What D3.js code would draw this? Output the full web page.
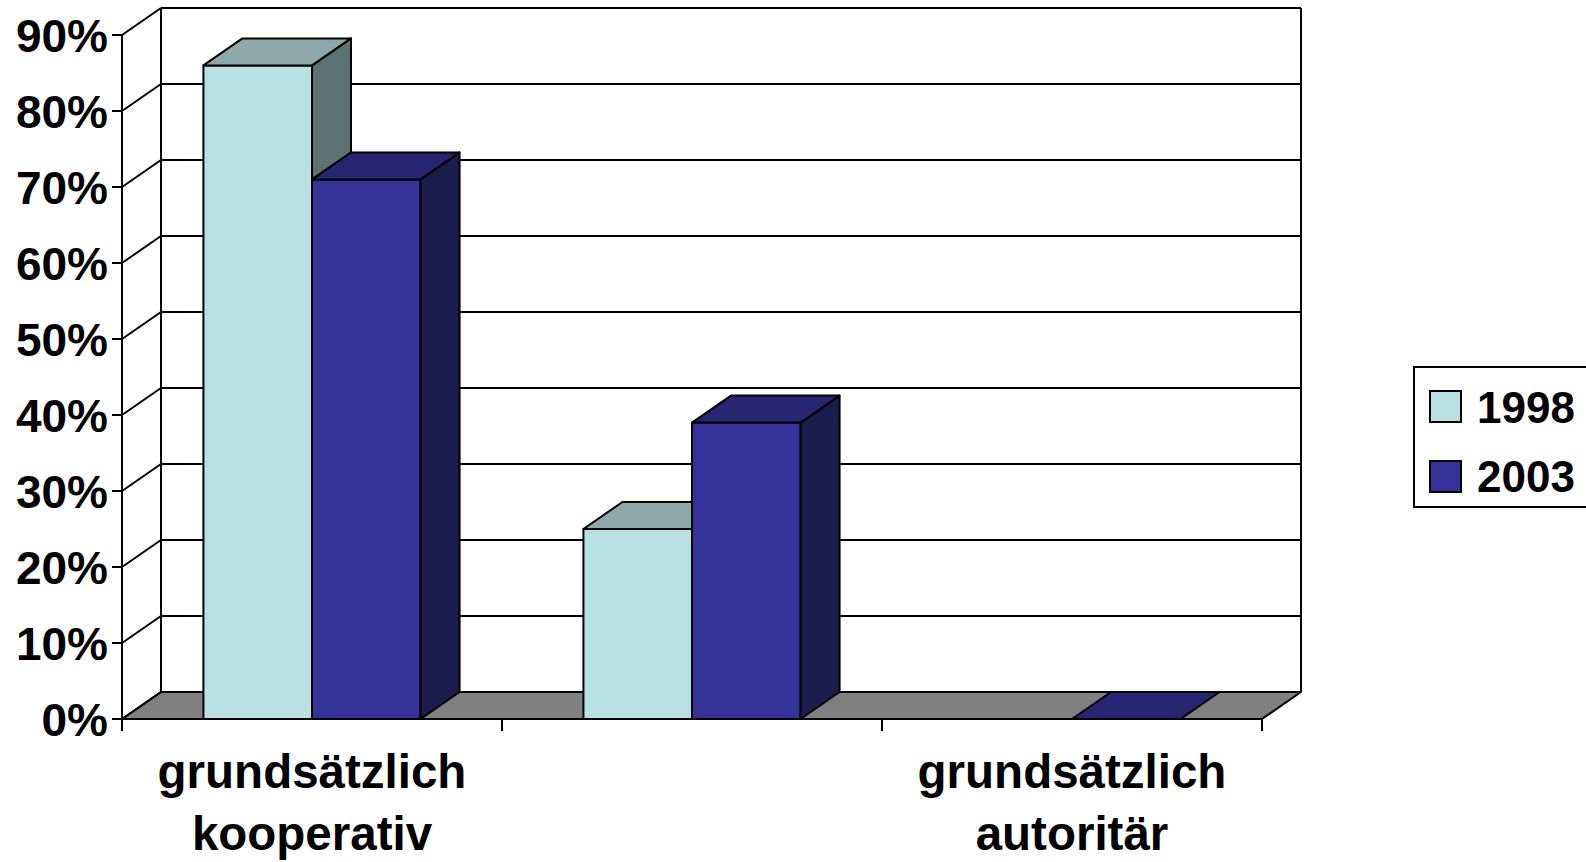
<!DOCTYPE html>
<html><head><meta charset="utf-8">
<script src="https://cdn.jsdelivr.net/npm/d3@7"></script>
<style>html,body{margin:0;padding:0;background:#fff;overflow:hidden}</style>
</head><body>
<svg id="c" width="1586" height="862"></svg>
<script>
const categories = [["grundsätzlich","kooperativ"], [], ["grundsätzlich","autoritär"]];
const seriesNames = ["1998", "2003"];
const values1998 = [86, 25, null];
const values2003 = [71, 39, 0];
const yTicks = [0,10,20,30,40,50,60,70,80,90];
const tickLabel = v => v + "%";

const svg = d3.select("#c");
const font = "'Liberation Sans', Arial, sans-serif";
const colors = [
  {front:"#B9E0E3", top:"#8EA9AB", side:"#5F7273"},
  {front:"#333399", top:"#262673", side:"#1C1C4D"}
];
const DX = 39, DY = 27;
const x0 = 122, x1 = 1262;
const y = d3.scaleLinear().domain([0, 90]).range([719, 35]);
const xCat = d3.scaleBand().domain(d3.range(categories.length)).range([x0, x1]).padding(0);
const xSer = d3.scaleBand().domain(d3.range(seriesNames.length)).range([0, xCat.bandwidth()]).paddingInner(0).paddingOuter(0.75);

const sw = 2;
// floor
svg.append("polygon")
  .attr("points", [[x0,y(0)],[x0+DX,y(0)-DY],[x1+DX,y(0)-DY],[x1,y(0)]].map(p=>p.join(",")).join(" "))
  .attr("fill","#808080").attr("stroke","#000").attr("stroke-width",sw).attr("stroke-linejoin","round");

// back wall gridlines and side wall lines
const g = svg.append("g");
yTicks.forEach(t => {
  if (t > 0) g.append("line").attr("x1", x0+DX).attr("x2", x1+DX).attr("y1", y(t)-DY).attr("y2", y(t)-DY)
    .attr("stroke","#000").attr("stroke-width",sw);
  g.append("line").attr("x1", x0).attr("y1", y(t)).attr("x2", x0+DX).attr("y2", y(t)-DY)
    .attr("stroke","#000").attr("stroke-width",sw);
  g.append("line").attr("x1", x0-10).attr("x2", x0).attr("y1", y(t)).attr("y2", y(t))
    .attr("stroke","#000").attr("stroke-width",sw);
  g.append("text").attr("x", 108).attr("y", y(t)+17).attr("text-anchor","end")
    .attr("font-family",font).attr("font-weight","bold").attr("font-size",46).text(tickLabel(t));
});
g.append("line").attr("x1", x0+DX).attr("x2", x0+DX).attr("y1", y(90)-DY).attr("y2", y(0)-DY).attr("stroke","#000").attr("stroke-width",sw);
g.append("line").attr("x1", x1+DX).attr("x2", x1+DX).attr("y1", y(90)-DY).attr("y2", y(0)-DY).attr("stroke","#000").attr("stroke-width",sw);
g.append("line").attr("x1", x0).attr("x2", x0).attr("y1", y(90)).attr("y2", y(0)+12).attr("stroke","#000").attr("stroke-width",sw);

// bars
const series = [values1998, values2003];
const bars = svg.append("g").attr("stroke","#000").attr("stroke-width",sw).attr("stroke-linejoin","round");
categories.forEach((c, ci) => {
  series.forEach((vals, si) => {
    const v = vals[ci];
    if (v === null || v === undefined) return;
    const bx = xCat(ci) + xSer(si), bw = xSer.bandwidth();
    const yt = y(v), yb = y(0);
    const col = colors[si];
    if (v > 0) {
      bars.append("rect").attr("x", bx).attr("y", yt).attr("width", bw).attr("height", yb-yt).attr("fill", col.front);
      bars.append("polygon").attr("points", [[bx+bw,yt],[bx+bw+DX,yt-DY],[bx+bw+DX,yb-DY],[bx+bw,yb]].map(p=>p.join(",")).join(" ")).attr("fill", col.side);
    }
    bars.append("polygon").attr("points", [[bx,yt],[bx+DX,yt-DY],[bx+bw+DX,yt-DY],[bx+bw,yt]].map(p=>p.join(",")).join(" ")).attr("fill", col.top);
  });
});

// category axis ticks
const catTicks = d3.range(categories.length+1).map(i => x0 + i*xCat.step());
catTicks.forEach(tx => {
  svg.append("line").attr("x1", tx).attr("x2", tx).attr("y1", y(0)).attr("y2", y(0)+12).attr("stroke","#000").attr("stroke-width",sw);
});
svg.append("line").attr("x1", x0).attr("x2", x1).attr("y1", y(0)).attr("y2", y(0)).attr("stroke","#000").attr("stroke-width",sw);

// category labels
categories.forEach((lines, ci) => {
  const cx = xCat(ci) + xCat.bandwidth()/2;
  lines.forEach((ln, li) => {
    svg.append("text").attr("x", cx).attr("y", 788 + li*62).attr("text-anchor","middle")
      .attr("font-family",font).attr("font-weight","bold").attr("font-size",47.5).text(ln);
  });
});

// legend
const lg = svg.append("g");
lg.append("rect").attr("x",1414).attr("y",367).attr("width",200).attr("height",140).attr("fill","#fff").attr("stroke","#000").attr("stroke-width",sw);
seriesNames.forEach((s, i) => {
  lg.append("rect").attr("x",1430).attr("y",391 + i*70).attr("width",31).attr("height",31)
    .attr("fill", colors[i].front).attr("stroke","#000").attr("stroke-width",sw);
  lg.append("text").attr("x",1477).attr("y",423 + i*69).attr("font-family",font).attr("font-weight","bold").attr("font-size",44).text(s);
});
</script>
</body></html>
